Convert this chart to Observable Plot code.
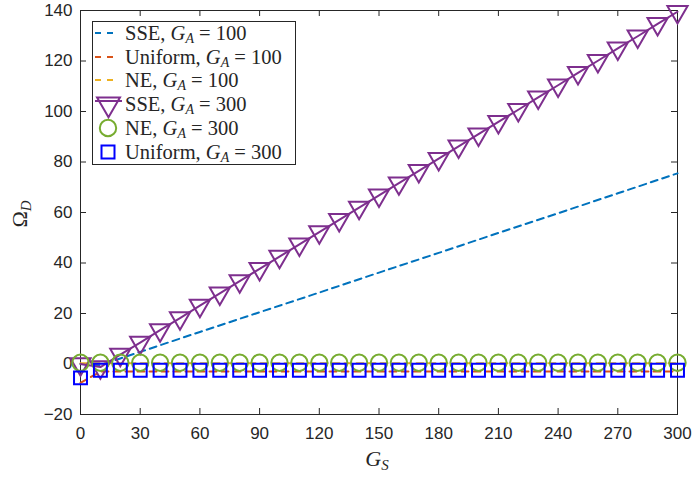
<!DOCTYPE html>
<html>
<head>
<meta charset="utf-8">
<script src="https://cdn.jsdelivr.net/npm/d3@7"></script>
<script src="https://cdn.jsdelivr.net/npm/@observablehq/plot@0.6"></script>
<style>
  html, body { margin: 0; padding: 0; background: #fff; }
  #chart { position: relative; width: 695px; height: 478px; }
</style>
</head>
<body>
<div id="chart"></div>
<script>
// ---- data ----
const xTicks = [0, 30, 60, 90, 120, 150, 180, 210, 240, 270, 300];
const yTicks = [-20, 0, 20, 40, 60, 80, 100, 120, 140];

const gsDense = [0, 10, 20, 30, 40, 50, 60, 70, 80, 90, 100, 110, 120, 130, 140, 150,
                 160, 170, 180, 190, 200, 210, 220, 230, 240, 250, 260, 270, 280, 290, 300];

// SSE, G_A = 300 (purple, triangles)
const sse300 = [0, -1.2, 3.7, 8.5, 13.4, 18.2, 23.1, 28, 32.8, 37.7, 42.5, 47.4, 52.2, 57.1, 61.9, 66.8,
                71.6, 76.5, 81.3, 86.2, 91, 95.9, 100.7, 105.6, 110.4, 115.3, 120.1, 125, 129.8, 134.7, 139.5];
// NE, G_A = 300 (green circles)
const ne300 = [0.5, 0.5, 0.5, 0.5, 0.5, 0.5, 0.5, 0.5, 0.5, 0.5, 0.5, 0.5, 0.5, 0.5, 0.5, 0.5,
               0.5, 0.5, 0.5, 0.5, 0.5, 0.5, 0.5, 0.5, 0.5, 0.5, 0.5, 0.5, 0.5, 0.5, 0.5];
// Uniform, G_A = 300 (blue squares)
const uni300 = [-5.5, -2.5, -2.5, -2.5, -2.5, -2.5, -2.5, -2.5, -2.5, -2.5, -2.5, -2.5, -2.5, -2.5, -2.5, -2.5,
                -2.5, -2.5, -2.5, -2.5, -2.5, -2.5, -2.5, -2.5, -2.5, -2.5, -2.5, -2.5, -2.5, -2.5, -2.5];

// G_A = 100 dashed curves
const gsSparse = [0, 10, 20, 30, 60, 90, 120, 150, 180, 210, 240, 270, 300];
const sse100 = [0, -0.5, 2.2, 4.8, 12.7, 20.5, 28.3, 36.2, 44, 51.9, 59.7, 67.6, 75.5];
const uni100 = [-7.5, -3, -3, -3, -3, -3, -3, -3, -3, -3, -3, -3, -3];
const ne100  = [0.3, 0.3, 0.3, 0.3, 0.3, 0.3, 0.3, 0.3, 0.3, 0.3, 0.3, 0.3, 0.3];

const seriesPrefix = ["SSE, ", "Uniform, ", "NE, ", "SSE, ", "NE, ", "Uniform, "];
const seriesGA = ["100", "100", "100", "300", "300", "300"];

// ---- tables ----
const dense = (ys) => gsDense.map((x, i) => ({x, y: ys[i]}));
const sparse = (ys) => gsSparse.map((x, i) => ({x, y: ys[i]}));

const C = {
  blue: "#0072BD", orange: "#D95319", yellow: "#EDB120",
  purple: "#7E2F8E", green: "#77AC30", pureBlue: "#0000FF", axis: "#262626"
};

const triangleDown = {
  draw(ctx, size) {
    const h = Math.sqrt(size / (3 * Math.sqrt(3)));
    const s = Math.sqrt(3) * h;
    ctx.moveTo(0, 2 * h);
    ctx.lineTo(-s, -h);
    ctx.lineTo(s, -h);
    ctx.closePath();
  }
};

const W = 695, H = 478, mL = 80, mR = 18, mT = 10, mB = 64;
const plotW = W - mL - mR, plotH = H - mT - mB;
const dash = "7,5";
const sans = "Liberation Sans, Arial, Helvetica, sans-serif";

const chart = Plot.plot({
  width: W, height: H,
  marginLeft: mL, marginRight: mR, marginTop: mT, marginBottom: mB,
  x: {domain: [0, 300]},
  y: {domain: [-20, 140]},
  style: {fontFamily: sans, fontSize: "17px", color: C.axis, background: "#fff"},
  marks: [
    Plot.axisX(xTicks, {tickSize: 0, tickPadding: 12, label: null, fontSize: 17, fontFamily: sans, fill: C.axis}),
    Plot.axisY(yTicks, {tickSize: 0, tickPadding: 8, label: null, fontSize: 17, fontFamily: sans, fill: C.axis}),
    Plot.tickX(xTicks, {x: d => d, insetTop: plotH - 6, stroke: C.axis}),
    Plot.tickX(xTicks, {x: d => d, insetBottom: plotH - 6, stroke: C.axis}),
    Plot.tickY(yTicks, {y: d => d, insetRight: plotW - 6, stroke: C.axis}),
    Plot.tickY(yTicks, {y: d => d, insetLeft: plotW - 6, stroke: C.axis}),
    Plot.frame({stroke: C.axis}),
    Plot.line(sparse(sse100), {x: "x", y: "y", stroke: C.blue, strokeWidth: 2, strokeDasharray: dash}),
    Plot.line(sparse(uni100), {x: "x", y: "y", stroke: C.orange, strokeWidth: 2, strokeDasharray: dash}),
    Plot.line(sparse(ne100), {x: "x", y: "y", stroke: C.yellow, strokeWidth: 2, strokeDasharray: dash}),
    Plot.line(dense(sse300), {x: "x", y: "y", stroke: C.purple, strokeWidth: 2}),
    Plot.dot(dense(sse300), {x: "x", y: "y", symbol: triangleDown, r: 7.5, stroke: C.purple, strokeWidth: 2, fill: "none"}),
    Plot.dot(dense(ne300), {x: "x", y: "y", symbol: "circle", r: 8.2, stroke: C.green, strokeWidth: 2, fill: "none"}),
    Plot.dot(dense(uni300), {x: "x", y: "y", symbol: "square", r: 7.3, stroke: C.pureBlue, strokeWidth: 2, fill: "none"})
  ]
});

document.getElementById("chart").appendChild(chart);

// ---- axis labels and legend (rich text) ----
const svg = d3.select(chart);
svg.selectAll("g[aria-label$='tick label']")
  .style("font-size", "17px").style("font-family", sans)
  .selectAll("text").style("font-size", "17px").style("font-family", sans);

const serif = "Liberation Serif, Times New Roman, serif";

const xl = svg.append("text").attr("x", 377).attr("y", 466).attr("text-anchor", "middle")
  .attr("font-family", serif).attr("font-size", 22).attr("fill", C.axis);
xl.append("tspan").attr("font-style", "italic").text("G");
xl.append("tspan").attr("font-style", "italic").attr("font-size", 15).attr("dy", 4).text("S");

const yl = svg.append("text").attr("transform", "translate(27,214) rotate(-90)").attr("text-anchor", "middle")
  .attr("font-family", serif).attr("font-size", 22).attr("fill", C.axis);
yl.append("tspan").text("Ω");
yl.append("tspan").attr("font-style", "italic").attr("font-size", 15).attr("dy", 4).text("D");

const lg = svg.append("g");
lg.append("rect").attr("x", 92.5).attr("y", 21.5).attr("width", 203).attr("height", 143)
  .attr("fill", "#fff").attr("stroke", C.axis).attr("stroke-width", 1);

const rowsY = [33, 57, 80, 104, 128, 152];
const legendItems = [
  {color: C.blue, kind: "dash"},
  {color: C.orange, kind: "dash"},
  {color: C.yellow, kind: "dash"},
  {color: C.purple, kind: "lineTri"},
  {color: C.green, kind: "circle"},
  {color: C.pureBlue, kind: "square"}
];
legendItems.forEach((it, i) => {
  const cy = rowsY[i];
  if (it.kind === "dash") {
    lg.append("line").attr("x1", 95).attr("x2", 118).attr("y1", cy).attr("y2", cy)
      .attr("stroke", it.color).attr("stroke-width", 2).attr("stroke-dasharray", "6,6");
  } else if (it.kind === "lineTri") {
    lg.append("line").attr("x1", 95).attr("x2", 122).attr("y1", cy - 3).attr("y2", cy - 3)
      .attr("stroke", it.color).attr("stroke-width", 2);
    lg.append("path").attr("transform", `translate(108.5,${cy})`)
      .attr("d", d3.symbol(triangleDown, Math.PI * 8.5 * 8.5)())
      .attr("fill", "none").attr("stroke", it.color).attr("stroke-width", 2);
  } else if (it.kind === "circle") {
    lg.append("circle").attr("cx", 108).attr("cy", cy).attr("r", 8.2)
      .attr("fill", "none").attr("stroke", it.color).attr("stroke-width", 2);
  } else {
    lg.append("rect").attr("x", 108 - 6.5).attr("y", cy - 6.5).attr("width", 13).attr("height", 13)
      .attr("fill", "none").attr("stroke", it.color).attr("stroke-width", 2);
  }
  const t = lg.append("text").attr("x", 125).attr("y", cy + 7).attr("text-anchor", "start")
    .attr("font-family", serif).attr("font-size", 20.5).attr("fill", "#262626");
  t.append("tspan").text(seriesPrefix[i]);
  t.append("tspan").attr("font-style", "italic").text("G");
  t.append("tspan").attr("font-style", "italic").attr("font-size", 14).attr("dy", 3).text("A");
  t.append("tspan").attr("dy", -3).text(" = " + seriesGA[i]);
});
</script>
</body>
</html>
